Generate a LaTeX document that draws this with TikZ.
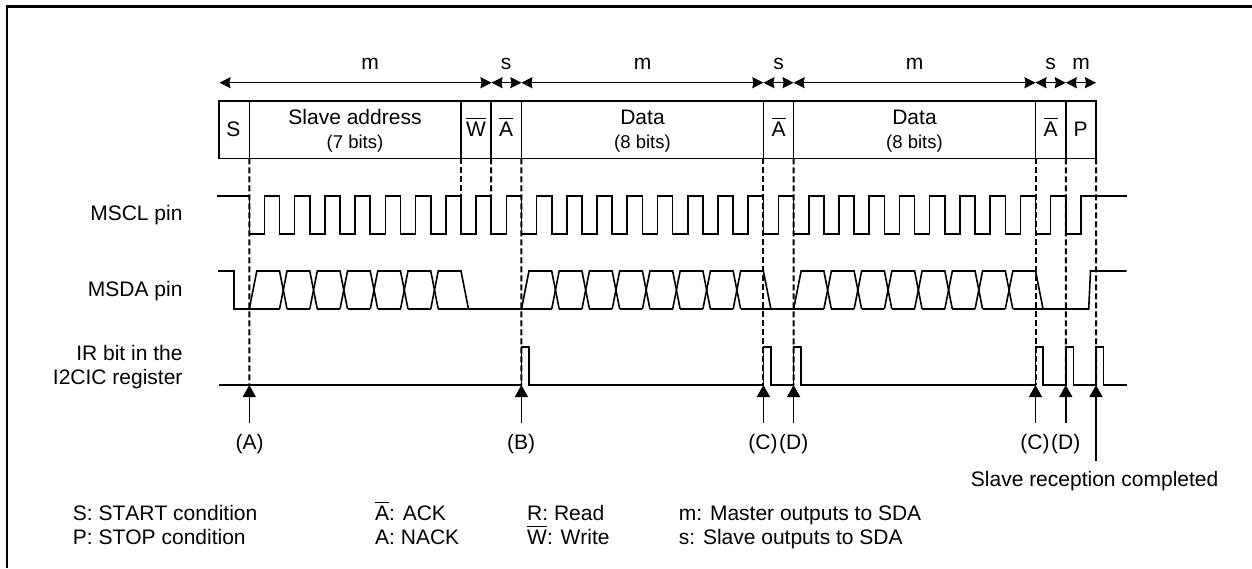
\documentclass[tikz,border=0pt]{standalone}
\usepackage{fontspec}
\setmainfont[Kerning=Off]{Liberation Sans}
\usetikzlibrary{arrows.meta}
\newcommand{\ovl}[1]{\leavevmode\setbox0\hbox{#1}\rlap{\raisebox{\dimexpr\ht0+2.6pt}{\rule{\wd0}{1.1pt}}}\box0}
\newcommand{\bigf}{\fontsize{21}{24}\selectfont}
\newcommand{\smallf}{\fontsize{18.5}{22}\selectfont}
\tikzset{
  wave/.style={line width=1.6pt,line join=miter,black},
  frameline/.style={line width=2.2pt,black},
  guide/.style={line width=2pt,dash pattern=on 6pt off 3pt,black},
  span/.style={line width=1.5pt,{Stealth[length=11pt,width=11pt,inset=1pt]}-{Stealth[length=11pt,width=11pt,inset=1pt]}},
  mark arrow/.style={line width=1.4pt,-{Triangle[length=12pt,width=13pt]}},
  cell/.style={draw,line width=1.5pt,anchor=north west,minimum height=57.3pt,inner sep=0pt,outer sep=0pt},
  txt/.style={font=\bigf,anchor=base,inner sep=0pt},
  sub/.style={font=\smallf,anchor=base,inner sep=0pt},
  side/.style={font=\bigf,anchor=base east,inner sep=0pt},
  legend/.style={font=\bigf,anchor=base west,inner sep=0pt},
}
\begin{document}
\begin{tikzpicture}[x=1pt,y=-1pt]
\useasboundingbox (0,0) rectangle (1252,568);
\fill[white] (0,0) rectangle (1252,568);
\draw[frameline] (7,568) -- (7,6.5) -- (1252,6.5);

% protocol cells
\node[cell,minimum width=30.3pt] (cS) at (219,101) {};
\node[cell,minimum width=211.7pt] (cAddr) at (249.3,101) {};
\node[cell,minimum width=30.2pt] (cW) at (461,101) {};
\node[cell,minimum width=30.2pt] (cA1) at (491.2,101) {};
\node[cell,minimum width=242pt] (cD1) at (521.4,101) {};
\node[cell,minimum width=30.2pt] (cA2) at (763.4,101) {};
\node[cell,minimum width=241.9pt] (cD2) at (793.6,101) {};
\node[cell,minimum width=30.3pt] (cA3) at (1035.5,101) {};
\node[cell,minimum width=30.2pt] (cP) at (1065.8,101) {};

\node[txt] (tS) at (233.5,136) {S};
\node[txt] (tAddr) at (355,124.5) {Slave address};
\node[sub] (tAddrB) at (355,148) {(7 bits)};
\node[txt] (tW) at (476,136) {\ovl{W}};
\node[txt] (tA1) at (506,136) {\ovl{A}};
\node[txt] (tD1) at (642.5,124.5) {Data};
\node[sub] (tD1B) at (642.5,148) {(8 bits)};
\node[txt] (tA2) at (778.5,136) {\ovl{A}};
\node[txt] (tD2) at (914.5,124.5) {Data};
\node[sub] (tD2B) at (914.5,148) {(8 bits)};
\node[txt] (tA3) at (1050.5,136) {\ovl{A}};
\node[txt] (tP) at (1080.5,136) {P};

% direction spans
\coordinate (s0) at (219.5,82.7);
\coordinate (s1) at (491.5,82.7);
\coordinate (s2) at (521.4,82.7);
\coordinate (s3) at (763.4,82.7);
\coordinate (s4) at (793.6,82.7);
\coordinate (s5) at (1035.5,82.7);
\coordinate (s6) at (1065.8,82.7);
\coordinate (s7) at (1096,82.7);
\draw[span] (s0) -- (s1);
\draw[span] (s1) -- (s2);
\draw[span] (s2) -- (s3);
\draw[span] (s3) -- (s4);
\draw[span] (s4) -- (s5);
\draw[span] (s5) -- (s6);
\draw[span] (s6) -- (s7);
\node[txt] (m1) at (370,69) {m};
\node[txt] (s1t) at (506,69) {s};
\node[txt] (m2) at (642.5,69) {m};
\node[txt] (s2t) at (778.5,69) {s};
\node[txt] (m3) at (914.5,69) {m};
\node[txt] (s3t) at (1050.5,69) {s};
\node[txt] (m4) at (1081,69) {m};

% side labels
\node[side] (lSCL) at (182.7,220.7) {MSCL pin};
\node[side] (lSDA) at (182.7,296.7) {MSDA pin};
\node[side] (lIR1) at (182.7,360) {IR bit in the};
\node[side] (lIR2) at (182.7,384) {I2CIC register};

% MSCL
\draw[wave] (217,196) -- (249.3,196)
  \foreach \i [evaluate=\i as \x using 249.3+30.24*\i] in {0,...,27}{
    -- (\x,196) -- (\x,234) -- ({\x+15.1},234) -- ({\x+15.1},196)
  } -- (1126.7,196);

% MSDA: high bits and crossings
\foreach \i [evaluate=\i as \x using 249.3+30.24*\i] in {0,...,6,9,10,...,16,18,19,...,25}{
  \draw[wave] (\x,309) -- ({\x+7.5},271) -- ({\x+30.24},271) -- ({\x+37.74},309);
}
% MSDA: low stretches
\draw[wave] (218,271) -- (234,271) -- (234,309) -- (279.54,309);
\foreach \i [evaluate=\i as \x using 249.3+30.24*\i] in {1,...,5,10,11,...,15,19,20,...,24}{
  \draw[wave] ({\x+7.5},309) -- ({\x+30.24},309);
}
\draw[wave] (438.24,309) -- (551.64,309);
\draw[wave] (741.14,309) -- (823.86,309);
\draw[wave] (1013.3,309) -- (1088.7,309) -- (1090.5,271) -- (1126.7,271);

% IR bit
\draw[wave] (218.5,385)
  \foreach \x in {521.4,763.4,793.6,1035.5,1065.8,1096}{
    -- (\x,385) -- (\x,347) -- ({\x+7.5},347) -- ({\x+7.5},385)
  } -- (1126.7,385);

% guides
\coordinate (g0) at (249.3,385);
\coordinate (g1) at (521.4,385);
\coordinate (g2) at (763.4,385);
\coordinate (g3) at (793.6,385);
\coordinate (g4) at (1035.5,385);
\coordinate (g5) at (1065.8,385);
\coordinate (g6) at (1096,385);
\coordinate (gW) at (461,196);
\coordinate (gA) at (491.2,196);
\draw[guide] (cS.south east) -- (g0);
\draw[guide] (cA1.south east) -- (g1);
\draw[guide] (cA2.south west) -- (g2);
\draw[guide] (cA2.south east) -- (g3);
\draw[guide] (cA3.south west) -- (g4);
\draw[guide] (cA3.south east) -- (g5);
\draw[guide] (cP.south east) -- (g6);
\draw[guide] (cW.south west) -- (gW);
\draw[guide] (cW.south east) -- (gA);

% event arrows
\coordinate (t0) at (249.3,423);
\coordinate (t1) at (521.4,423);
\coordinate (t2) at (763.4,423);
\coordinate (t3) at (793.6,423);
\coordinate (t4) at (1035.5,423);
\coordinate (t5) at (1065.8,423);
\coordinate (t6) at (1096,461);
\draw[mark arrow] (t0) -- (g0);
\draw[mark arrow] (t1) -- (g1);
\draw[mark arrow] (t2) -- (g2);
\draw[mark arrow] (t3) -- (g3);
\draw[mark arrow] (t4) -- (g4);
\draw[mark arrow] (t5) -- (g5);
\draw[mark arrow] (t6) -- (g6);

\node[txt] (eA) at (249.5,449.5) {(A)};
\node[txt] (eB) at (521,449.5) {(B)};
\node[txt] (eC1) at (763,449.5) {(C)};
\node[txt] (eD1) at (793.8,449.5) {(D)};
\node[txt] (eC2) at (1035,449.5) {(C)};
\node[txt] (eD2) at (1065.8,449.5) {(D)};
\node[legend] (done) at (970.7,486) {Slave reception completed};

% legend
\node[legend] (k1) at (72.7,520.5) {S: START condition};
\node[legend] (k2) at (72.7,544) {P: STOP condition};
\node[legend] (k3) at (375,520.5) {\ovl{A}: ACK};
\node[legend] (k4) at (375,544) {A: NACK};
\node[legend] (k5) at (527,520.5) {R: Read};
\node[legend] (k6) at (527,544) {\ovl{W}: Write};
\node[legend] (k7) at (678.7,520.5) {m: Master outputs to SDA};
\node[legend] (k8) at (678.7,544) {s: Slave outputs to SDA};
\end{tikzpicture}
\end{document}
